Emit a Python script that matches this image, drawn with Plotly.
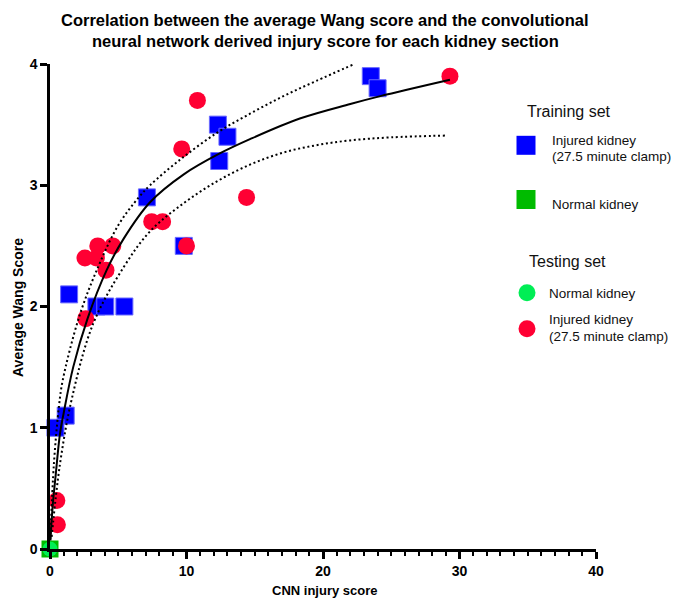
import plotly.graph_objects as go

# ---------------- data ----------------
train_inj_x = [23.5, 24.0, 12.3, 13.0, 12.4, 7.1, 9.8, 1.4, 3.4, 4.05, 5.45, 1.15, 0.4]
train_inj_y = [3.9, 3.8, 3.5, 3.4, 3.2, 2.9, 2.5, 2.1, 2.0, 2.0, 2.0, 1.1, 1.0]
train_norm_x = [0.0]
train_norm_y = [0.0]
test_norm_x = [0.0]
test_norm_y = [0.0]
test_inj_x = [29.3, 10.8, 9.65, 14.4, 7.45, 8.25, 10.0, 3.5, 4.6, 2.56, 3.4, 4.1, 2.62, 0.5, 0.54]
test_inj_y = [3.9, 3.7, 3.3, 2.9, 2.7, 2.7, 2.5, 2.5, 2.5, 2.4, 2.4, 2.3, 1.9, 0.4, 0.2]

# fitted curve and 95% bands
fit_x = [0.03, 0.2, 0.4, 0.73, 1.0, 1.7, 2.75, 4.15, 5.4, 7.33, 9.8, 12.4, 14.65, 18.3, 22.0, 24.2, 29.3]
fit_y = [0.07, 0.36, 0.59, 0.95, 1.12, 1.5, 1.9, 2.3, 2.56, 2.86, 3.09, 3.26, 3.38, 3.55, 3.67, 3.735, 3.87]
upper_x = [0.02, 0.29, 0.66, 0.93, 2.15, 3.54, 5.0, 6.5, 7.33, 9.52, 12.2, 14.65, 17.1, 19.5, 22.3]
upper_y = [0.08, 0.71, 1.18, 1.39, 1.92, 2.33, 2.67, 2.9, 3.0, 3.21, 3.43, 3.59, 3.735, 3.86, 4.0]
lower_x = [0.12, 0.73, 1.6, 3.17, 5.37, 7.33, 9.77, 12.2, 14.65, 17.1, 19.5, 22.0, 25.0, 29.06]
lower_y = [0.1, 0.7, 1.24, 1.86, 2.32, 2.62, 2.85, 3.03, 3.17, 3.27, 3.33, 3.37, 3.395, 3.41]

x_ticks = [0, 10, 20, 30, 40]
y_ticks = [0, 1, 2, 3, 4]

title_lines = ["Correlation between the average Wang score and the convolutional",
               "neural network derived injury score for each kidney section"]
x_title = "CNN injury score"
y_title = "Average Wang Score"

BLUE = "#0000FF"
RED = "#FF0033"
GREEN_SQ = "#00BB00"
GREEN_CI = "#00EE55"
FONT = "Arial, Liberation Sans, sans-serif"

W, H = 673, 599
L, R, T, B = 50, 77, 64, 50
PW, PH = W - L - R, H - T - B


def px(x):
    return (x - L) / PW


def py(y):
    return (H - B - y) / PH


fig = go.Figure()

fig.add_trace(go.Scatter(x=train_inj_x, y=train_inj_y, mode="markers", cliponaxis=False,
                         marker=dict(symbol="square", size=17, color=BLUE,
                                     line=dict(color="#6a6aff", width=1))))
fig.add_trace(go.Scatter(x=train_norm_x, y=train_norm_y, mode="markers", cliponaxis=False,
                         marker=dict(symbol="square", size=17, color=GREEN_SQ,
                                     line=dict(color=GREEN_SQ, width=0))))
fig.add_trace(go.Scatter(x=test_inj_x, y=test_inj_y, mode="markers", cliponaxis=False,
                         marker=dict(symbol="circle", size=17, color=RED,
                                     line=dict(color=RED, width=0))))
fig.add_trace(go.Scatter(x=test_norm_x, y=test_norm_y, mode="markers", cliponaxis=False,
                         marker=dict(symbol="circle", size=15, color=GREEN_CI,
                                     line=dict(width=0))))

dot = dict(color="black", width=2, dash="2px,2.7px")
fig.add_trace(go.Scatter(x=upper_x, y=upper_y, mode="lines", line=dict(shape="spline", smoothing=1.0, **dot)))
fig.add_trace(go.Scatter(x=lower_x, y=lower_y, mode="lines", line=dict(shape="spline", smoothing=1.0, **dot)))
fig.add_trace(go.Scatter(x=fit_x, y=fit_y, mode="lines",
                         line=dict(color="black", width=2, shape="spline", smoothing=1.0)))

annotations = []
# title
annotations.append(dict(text=title_lines[0], x=px(325), y=py(20), xref="paper", yref="paper",
                        xanchor="center", yanchor="middle", showarrow=False,
                        font=dict(family=FONT, size=16.5, color="black", weight="bold")))
annotations.append(dict(text=title_lines[1], x=px(325), y=py(41), xref="paper", yref="paper",
                        xanchor="center", yanchor="middle", showarrow=False,
                        font=dict(family=FONT, size=16.5, color="black", weight="bold")))
# axis titles
annotations.append(dict(text=x_title, x=px(324), y=py(590), xref="paper", yref="paper",
                        xanchor="center", yanchor="middle", showarrow=False,
                        font=dict(family=FONT, size=13, color="black", weight="bold")))
annotations.append(dict(text=y_title, x=px(18), y=py(308), xref="paper", yref="paper",
                        xanchor="center", yanchor="middle", showarrow=False, textangle=-90,
                        font=dict(family=FONT, size=14, color="black", weight="bold")))

# legend texts
leg_txt = [
    ("Training set", 525, 111.7, 16),
    ("Injured kidney", 550, 140.7, 13.5),
    ("(27.5 minute clamp)", 550, 156, 13.5),
    ("Normal kidney", 550, 204.3, 13.5),
    ("Testing set", 527, 261, 16),
    ("Normal kidney", 547, 293.3, 13.5),
    ("Injured kidney", 547, 319.3, 13.5),
    ("(27.5 minute clamp)", 547, 336.7, 13.5),
]
for t, x, y, s in leg_txt:
    annotations.append(dict(text=t, x=px(x), y=py(y), xref="paper", yref="paper",
                            xanchor="left", yanchor="middle", showarrow=False,
                            font=dict(family=FONT, size=s, color="#111111")))

shapes = []
leg_marks = [
    ("rect", 526, 145.3, 19, BLUE),
    ("rect", 526, 199.5, 19, GREEN_SQ),
    ("circle", 527, 292.7, 17, GREEN_CI),
    ("circle", 527, 328.7, 17, RED),
]
for kind, x, y, s, c in leg_marks:
    h = s / 2
    shapes.append(dict(type=kind, xref="paper", yref="paper", xsizemode="pixel", ysizemode="pixel",
                       xanchor=px(x), yanchor=py(y), x0=-h, x1=h, y0=-h, y1=h,
                       fillcolor=c, line=dict(width=0)))

fig.update_layout(
    width=W, height=H, margin=dict(l=L, r=R, t=T, b=B),
    paper_bgcolor="white", plot_bgcolor="white", showlegend=False,
    annotations=annotations, shapes=shapes,
    xaxis=dict(range=[0, 40], tickvals=x_ticks, ticks="outside", ticklen=7, tickwidth=2.5,
               tickcolor="black", showline=True, linecolor="black", linewidth=2.5,
               showgrid=False, zeroline=False,
               tickfont=dict(family=FONT, size=14, color="black", weight="bold"),
               minor=dict(dtick=1, ticks="outside", ticklen=4, tickwidth=2, tickcolor="black", showgrid=False)),
    yaxis=dict(range=[0, 4], tickvals=y_ticks, ticks="outside", ticklen=7, tickwidth=2.5,
               tickcolor="black", showline=True, linecolor="black", linewidth=2.5,
               showgrid=False, zeroline=False,
               tickfont=dict(family=FONT, size=14, color="black", weight="bold")),
)

fig.write_html("out.html", config={"displayModeBar": False},
               post_script="document.body.style.margin='0';document.body.style.padding='0';")
